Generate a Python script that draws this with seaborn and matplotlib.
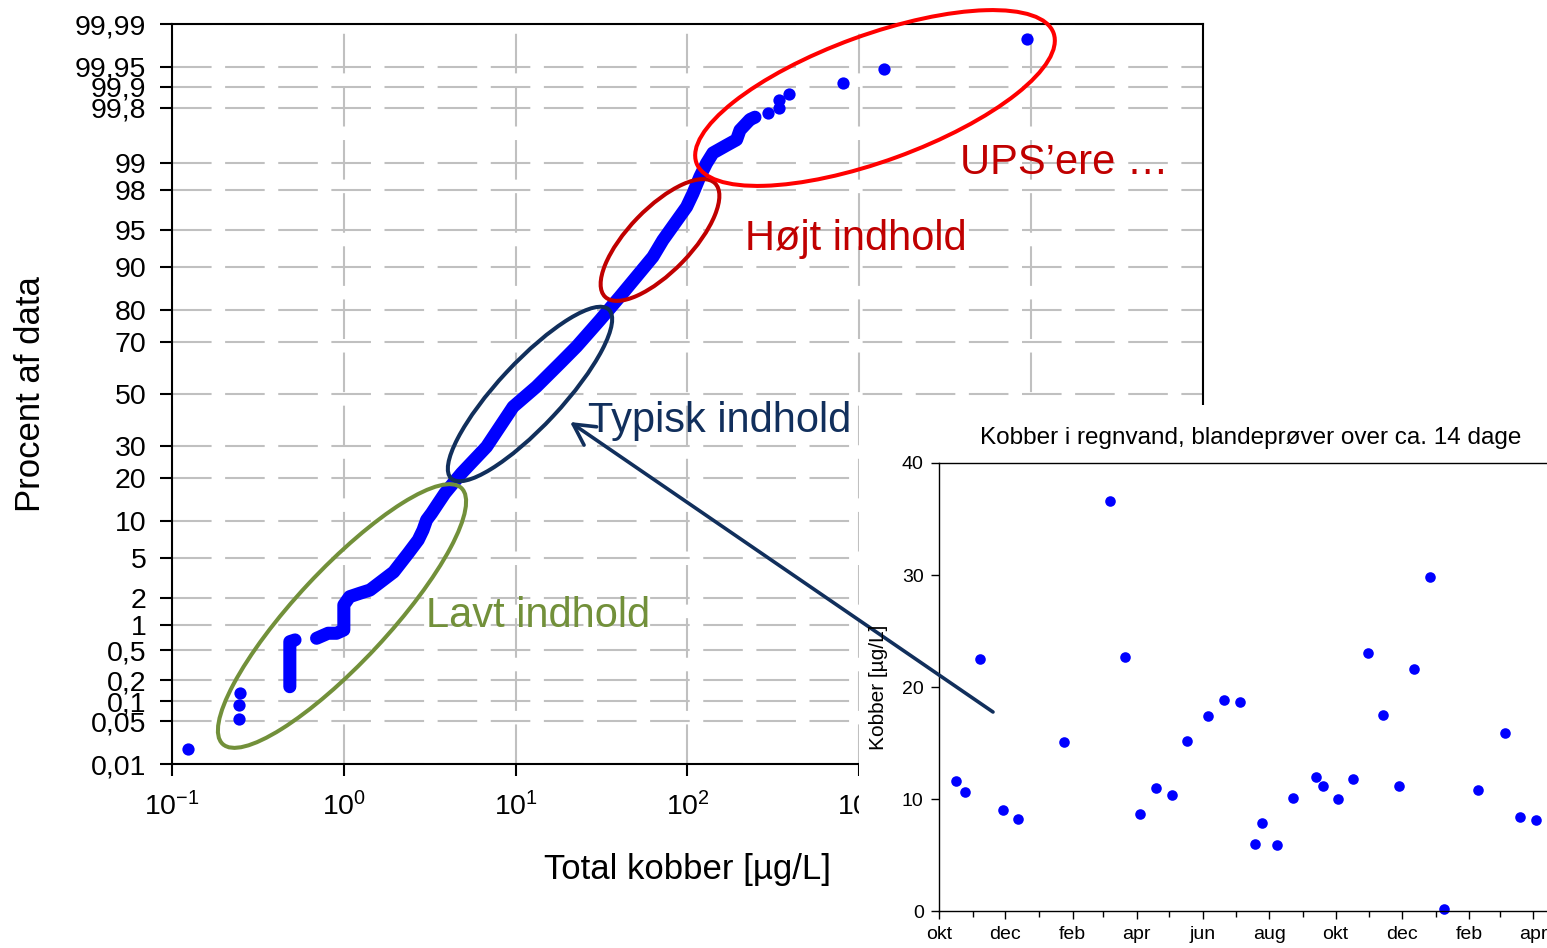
import numpy as np
import pandas as pd
import matplotlib
matplotlib.use("Agg")
import matplotlib.pyplot as plt
import matplotlib.dates as mdates
from matplotlib.patches import Ellipse, Rectangle
from matplotlib.ticker import (FixedLocator, FixedFormatter, NullLocator,
                               FuncFormatter, LogFormatterSciNotation)
from statistics import NormalDist
import seaborn as sns

W, H = 1547, 948

# ---- cumulative distribution of total copper (µg/L) vs. percent of data ----
# dense part of the distribution, drawn as connected runs of observations
run_id = [1, 1, 1] + [2] * 37
run_conc = [0.485, 0.485, 0.52,
            0.694, 0.81, 0.907, 1.0, 1.0, 1.08, 1.24, 1.42, 1.95, 2.37,
            2.71, 2.89, 3.03, 3.24, 3.54, 3.87, 4.33, 4.84, 6.77, 9.67,
            13.2, 18.1, 22.6, 30.9, 40.4, 62.9, 71.9, 98.8, 107.5, 118,
            129, 140.6, 169, 193, 202, 231, 247]
run_pct = [0.163, 0.64, 0.672,
           0.704, 0.809, 0.809, 0.885, 1.70, 2.08, 2.26, 2.44, 3.68, 5.47,
           7.12, 8.58, 10.27, 11.53, 13.6, 15.9, 18.5, 21.3, 29.8, 44.9,
           52.9, 62.1, 68.3, 77.1, 83.6, 91.6, 93.9, 97.0, 97.8, 98.55,
           98.98, 99.23, 99.38, 99.47, 99.60, 99.71, 99.73]
# single observations in the two tails
tail_conc = [0.124, 0.246, 0.246, 0.25, 295, 341, 341, 389, 800, 1390, 9420]
tail_pct = [0.018, 0.0545, 0.0886, 0.131, 99.76, 99.795, 99.844, 99.871,
            99.910, 99.9455, 99.982]

prob_ticks = [0.01, 0.05, 0.1, 0.2, 0.5, 1, 2, 5, 10, 20, 30, 50, 70, 80,
              90, 95, 98, 99, 99.8, 99.9, 99.95, 99.99]
prob_labels = ["0,01", "0,05", "0,1", "0,2", "0,5", "1", "2", "5", "10",
               "20", "30", "50", "70", "80", "90", "95", "98", "99", "99,8",
               "99,9", "99,95", "99,99"]
conc_ticks = [0.1, 1, 10, 100, 1000, 1e4, 1e5]

# ---- copper in rain water, composite samples over ~14 days ----
sample_dates = ["2005-10-17", "2005-10-25", "2005-11-08", "2005-11-29",
                "2005-12-13", "2006-01-24", "2006-03-07", "2006-03-21",
                "2006-04-04", "2006-04-19", "2006-05-03", "2006-05-17",
                "2006-06-06", "2006-06-20", "2006-07-05", "2006-07-19",
                "2006-07-25", "2006-08-08", "2006-08-23", "2006-09-13",
                "2006-09-19", "2006-10-03", "2006-10-17", "2006-10-31",
                "2006-11-14", "2006-11-28", "2006-12-12", "2006-12-27",
                "2007-01-09", "2007-02-09", "2007-03-06", "2007-03-20",
                "2007-04-03"]
sample_cu = [11.6, 10.6, 22.5, 9.0, 8.2, 15.1, 36.6, 22.7, 8.7, 11.0, 10.4,
             15.2, 17.4, 18.8, 18.7, 6.0, 7.9, 5.9, 10.1, 12.0, 11.2, 10.0,
             11.8, 23.0, 17.5, 11.2, 21.6, 29.8, 0.15, 10.8, 15.9, 8.4, 8.1]
cu_ticks = [0, 10, 20, 30, 40]
month_names = ["jan", "feb", "mar", "apr", "maj", "jun", "jul", "aug",
               "sep", "okt", "nov", "dec"]

BLUE = "#0000FF"
GREEN = "#72903A"
NAVY = "#112F5C"
DARKRED = "#C00000"
RED = "#FF0000"

# normal-probability axis
_nd = NormalDist()


def prob_fwd(p):
    a = np.asarray(p, dtype=float)
    flat = np.clip(a.ravel() / 100.0, 1e-9, 1 - 1e-9)
    out = np.array([_nd.inv_cdf(v) if np.isfinite(v) else np.nan for v in flat],
                   dtype=float)
    return out.reshape(a.shape)


def prob_inv(z):
    a = np.asarray(z, dtype=float)
    out = np.array([_nd.cdf(v) * 100.0 if np.isfinite(v) else np.nan
                    for v in a.ravel()], dtype=float)
    return out.reshape(a.shape)


sns.set_style("white")
plt.rcParams["font.family"] = ["Liberation Sans", "DejaVu Sans"]
plt.rcParams["mathtext.fontset"] = "custom"
plt.rcParams["mathtext.rm"] = "Liberation Sans"
plt.rcParams["mathtext.it"] = "Liberation Sans:italic"
plt.rcParams["mathtext.bf"] = "Liberation Sans:bold"
plt.rcParams["axes.unicode_minus"] = False
plt.rcParams["text.color"] = "black"

fig = plt.figure(figsize=(W / 100, H / 100), dpi=100)


def fig_box(left, top, right, bottom):
    return [left / W, 1 - bottom / H, (right - left) / W, (bottom - top) / H]


def ftext(x, y, s, **kw):
    return fig.text(x / W, 1 - y / H, s, **kw)


# ---------------- probability plot ----------------
ax = fig.add_axes(fig_box(172, 24, 1203, 764))
ax.set_zorder(0)
ax.set_xscale("log")
ax.set_yscale("function", functions=(prob_fwd, prob_inv))

df_runs = pd.DataFrame({"run": run_id, "conc": run_conc, "pct": run_pct})
sns.lineplot(data=df_runs, x="conc", y="pct", units="run", estimator=None,
             sort=False, color=BLUE, lw=9.4, solid_capstyle="round",
             solid_joinstyle="round", legend=False, ax=ax)
sns.scatterplot(x=tail_conc, y=tail_pct, color=BLUE, s=78, linewidth=0,
                legend=False, ax=ax, clip_on=False, zorder=3)

ax.set_xlim(0.1, 1e5)
ax.set_ylim(0.01, 99.99)
ax.set_xlabel("")
ax.set_ylabel("")
ax.xaxis.set_major_locator(FixedLocator(conc_ticks))
ax.xaxis.set_major_formatter(LogFormatterSciNotation())
ax.xaxis.set_minor_locator(NullLocator())
ax.yaxis.set_major_locator(FixedLocator(prob_ticks))
ax.yaxis.set_major_formatter(FixedFormatter(prob_labels))
ax.yaxis.set_minor_locator(NullLocator())
ax.tick_params(axis="both", which="major", direction="out", length=8.5,
               width=1.5, color="black", labelsize=20.5, labelcolor="black",
               bottom=True, left=True)
ax.tick_params(axis="y", pad=10)
ax.tick_params(axis="x", pad=12)
for sp in ax.spines.values():
    sp.set_visible(True)
    sp.set_linewidth(1.5)
    sp.set_color("black")
ax.set_axisbelow(True)
ax.grid(True, which="major", color="#C0C0C0", lw=1.5, ls=(0, (19, 6.5)))

ftext(31, 394, "Procent af data", rotation=90, ha="center", va="center",
      fontsize=25)
ftext(687, 870, "Total kobber [µg/L]", ha="center", va="center", fontsize=25)

# white panel behind the time series
fig.add_artist(Rectangle((859 / W, 0), (W - 859) / W, (H - 405) / H,
                         transform=fig.transFigure, facecolor="white",
                         edgecolor="none", zorder=1))

# ---------------- time series ----------------
ins = fig.add_axes(fig_box(939, 463, 939 + 627, 911))
ins.set_zorder(2)
ins.set_facecolor("white")
sns.scatterplot(x=pd.to_datetime(sample_dates), y=sample_cu, color=BLUE,
                s=58, linewidth=0, legend=False, ax=ins, clip_on=False)
ins.set_xlim(pd.Timestamp("2005-10-01"), pd.Timestamp("2007-05-01"))
ins.set_ylim(0, 40)
ins.set_xlabel("")
ins.set_ylabel("")
ins.yaxis.set_major_locator(FixedLocator(cu_ticks))
ins.xaxis.set_major_locator(mdates.MonthLocator(bymonth=[2, 4, 6, 8, 10, 12]))
ins.xaxis.set_minor_locator(mdates.MonthLocator())
ins.xaxis.set_major_formatter(
    FuncFormatter(lambda v, pos: month_names[mdates.num2date(v).month - 1]))
ins.tick_params(axis="both", which="both", direction="out", color="black",
                width=1, labelsize=14, labelcolor="black", bottom=True,
                left=True)
ins.tick_params(axis="both", which="major", length=6, pad=5)
ins.tick_params(axis="x", which="minor", length=4)
for name, sp in ins.spines.items():
    sp.set_visible(name != "right")
    sp.set_linewidth(1.0)
    sp.set_color("black")

ftext(1251, 438, "Kobber i regnvand, blandeprøver over ca. 14 dage",
      ha="center", va="center", fontsize=17.5)
ftext(878, 687, "Kobber [µg/L]", rotation=90, ha="center", va="center",
      fontsize=15)

# ---------------- annotations ----------------
ov = fig.add_axes([0, 0, 1, 1])
ov.set_zorder(3)
ov.set_xlim(0, W)
ov.set_ylim(H, 0)
ov.axis("off")

rings = [  # centre x, centre y, length, width, tilt, colour
    (342, 616, 350, 93, 47, GREEN),
    (530, 394, 231, 64, 47, NAVY),
    (660, 240, 158, 63, 46, DARKRED),
    (875, 98, 380, 126, 20, RED),
]
for cx, cy, w, h, ang, col in rings:
    ov.add_patch(Ellipse((cx, cy), w, h, angle=-ang, fill=False,
                         edgecolor=col, lw=2.9))

ov.text(960, 174, "UPS\u2019ere \u2026", color=DARKRED, fontsize=30,
        va="baseline", ha="left")
ov.text(745, 250, "Højt indhold", color=DARKRED, fontsize=30,
        va="baseline", ha="left")
ov.text(588, 432, "Typisk indhold", color=NAVY, fontsize=30,
        va="baseline", ha="left")
ov.text(426, 627, "Lavt indhold", color=GREEN, fontsize=30,
        va="baseline", ha="left")
ov.annotate("", xy=(570, 422), xytext=(993, 712),
            arrowprops=dict(arrowstyle="->,head_length=0.75,head_width=0.4",
                            mutation_scale=20, color=NAVY, lw=2.6,
                            shrinkA=0, shrinkB=0))

fig.savefig("out.png", dpi=100)
